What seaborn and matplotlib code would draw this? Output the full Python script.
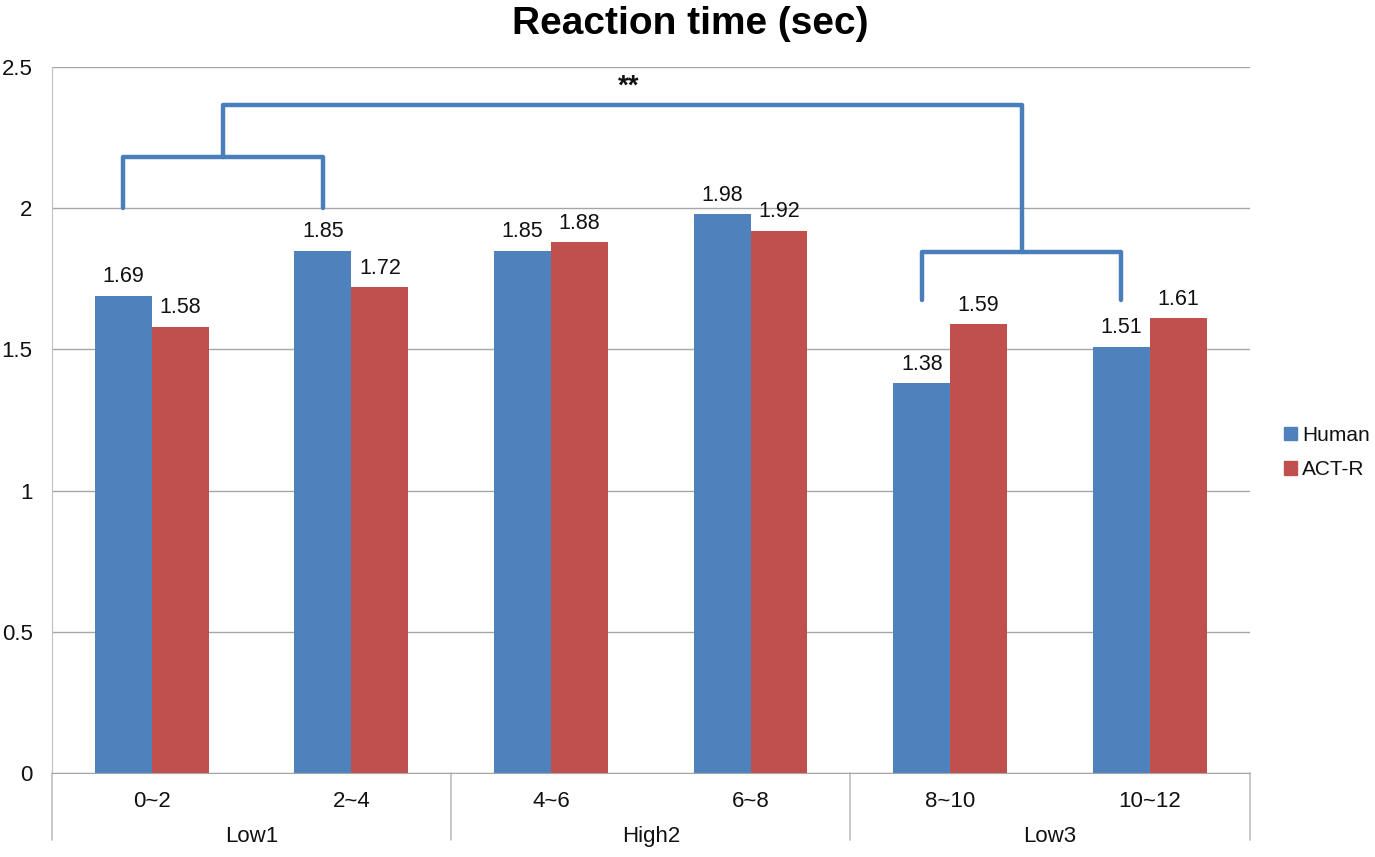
import pandas as pd
import numpy as np
import matplotlib.pyplot as plt
import seaborn as sns
from matplotlib.transforms import blended_transform_factory

bins = ['0~2', '2~4', '4~6', '6~8', '8~10', '10~12']
groups = ['Low1', 'High2', 'Low3']
human = [1.69, 1.85, 1.85, 1.98, 1.38, 1.51]
actr = [1.58, 1.72, 1.88, 1.92, 1.59, 1.61]

df = pd.DataFrame({
    'bin': bins * 2,
    'rt': human + actr,
    'model': ['Human'] * len(bins) + ['ACT-R'] * len(bins),
})

sns.set_style('white')
plt.rcParams['font.family'] = ['Liberation Sans', 'DejaVu Sans']
plt.rcParams['text.color'] = '#111111'
plt.rcParams['xtick.color'] = '#111111'
plt.rcParams['ytick.color'] = '#111111'

fig = plt.figure(figsize=(13.75, 8.57), dpi=100)
ax = fig.add_axes([0.0378, 0.098, 0.871, 0.8238])

colors = {'Human': '#4F81BD', 'ACT-R': '#C0504D'}
sns.barplot(data=df, x='bin', y='rt', hue='model', hue_order=['Human', 'ACT-R'],
            palette=colors, width=0.57, gap=0, saturation=1, linewidth=0,
            ax=ax, legend=False)

for c in ax.containers:
    ax.bar_label(c, fmt='%.2f', padding=6, fontsize=15.5)

ax.set_ylim(0, 2.5)
ax.set_xlim(-0.5, 5.5)
ax.set_yticks([0, 0.5, 1, 1.5, 2, 2.5])
ax.set_yticklabels(['0', '0.5', '1', '1.5', '2', '2.5'], fontsize=16)
ax.yaxis.grid(True, color='#A6A6A6', lw=1)
ax.set_axisbelow(True)
ax.tick_params(axis='y', length=0, pad=14)
ax.tick_params(axis='x', length=0, pad=13, labelsize=16)
ax.set_xlabel('')
ax.set_ylabel('')
for s in ['top', 'right']:
    ax.spines[s].set_visible(False)
ax.spines['left'].set_color('#BFBFBF')
ax.spines['bottom'].set_color('#A6A6A6')

# category separators below the axis
tr = blended_transform_factory(ax.transData, ax.transAxes)
for xs in [-0.5, 1.5, 3.5, 5.5]:
    ax.plot([xs, xs], [0, -0.095], transform=tr, color='#BFBFBF', lw=1.2, clip_on=False)
for i, g in enumerate(groups):
    ax.text(2 * i + 0.5, -0.09, g, transform=tr, ha='center', va='center', fontsize=16)

# significance brackets
bc = '#4A7EBB'
lw = 3.2
off = -0.1425
ax.plot([0 + off, 0 + off, 1 + off, 1 + off], [2.0, 2.18, 2.18, 2.0], color=bc, lw=lw)
ax.plot([4 + off, 4 + off, 5 + off, 5 + off], [1.675, 1.845, 1.845, 1.675], color=bc, lw=lw)
left_mid = 0.5 + off
right_mid = 4.5 + off
ax.plot([left_mid, left_mid, right_mid, right_mid], [2.18, 2.365, 2.365, 1.845], color=bc, lw=lw)
ax.text(2.39, 2.385, '**', ha='center', va='bottom', fontsize=20, fontweight='bold')

fig.text(0.502, 0.972, 'Reaction time (sec)', ha='center', va='center',
         fontsize=28, fontweight='bold', color='black')

handles = [plt.Rectangle((0, 0), 1, 1, color=colors[k]) for k in ['Human', 'ACT-R']]
fig.legend(handles, ['Human', 'ACT-R'], loc='center left', bbox_to_anchor=(0.934, 0.472),
           frameon=False, fontsize=15, handlelength=0.6, handleheight=0.6,
           handletextpad=0.25, labelspacing=0.75, borderpad=0, borderaxespad=0)

fig.savefig('out.png', dpi=100)
